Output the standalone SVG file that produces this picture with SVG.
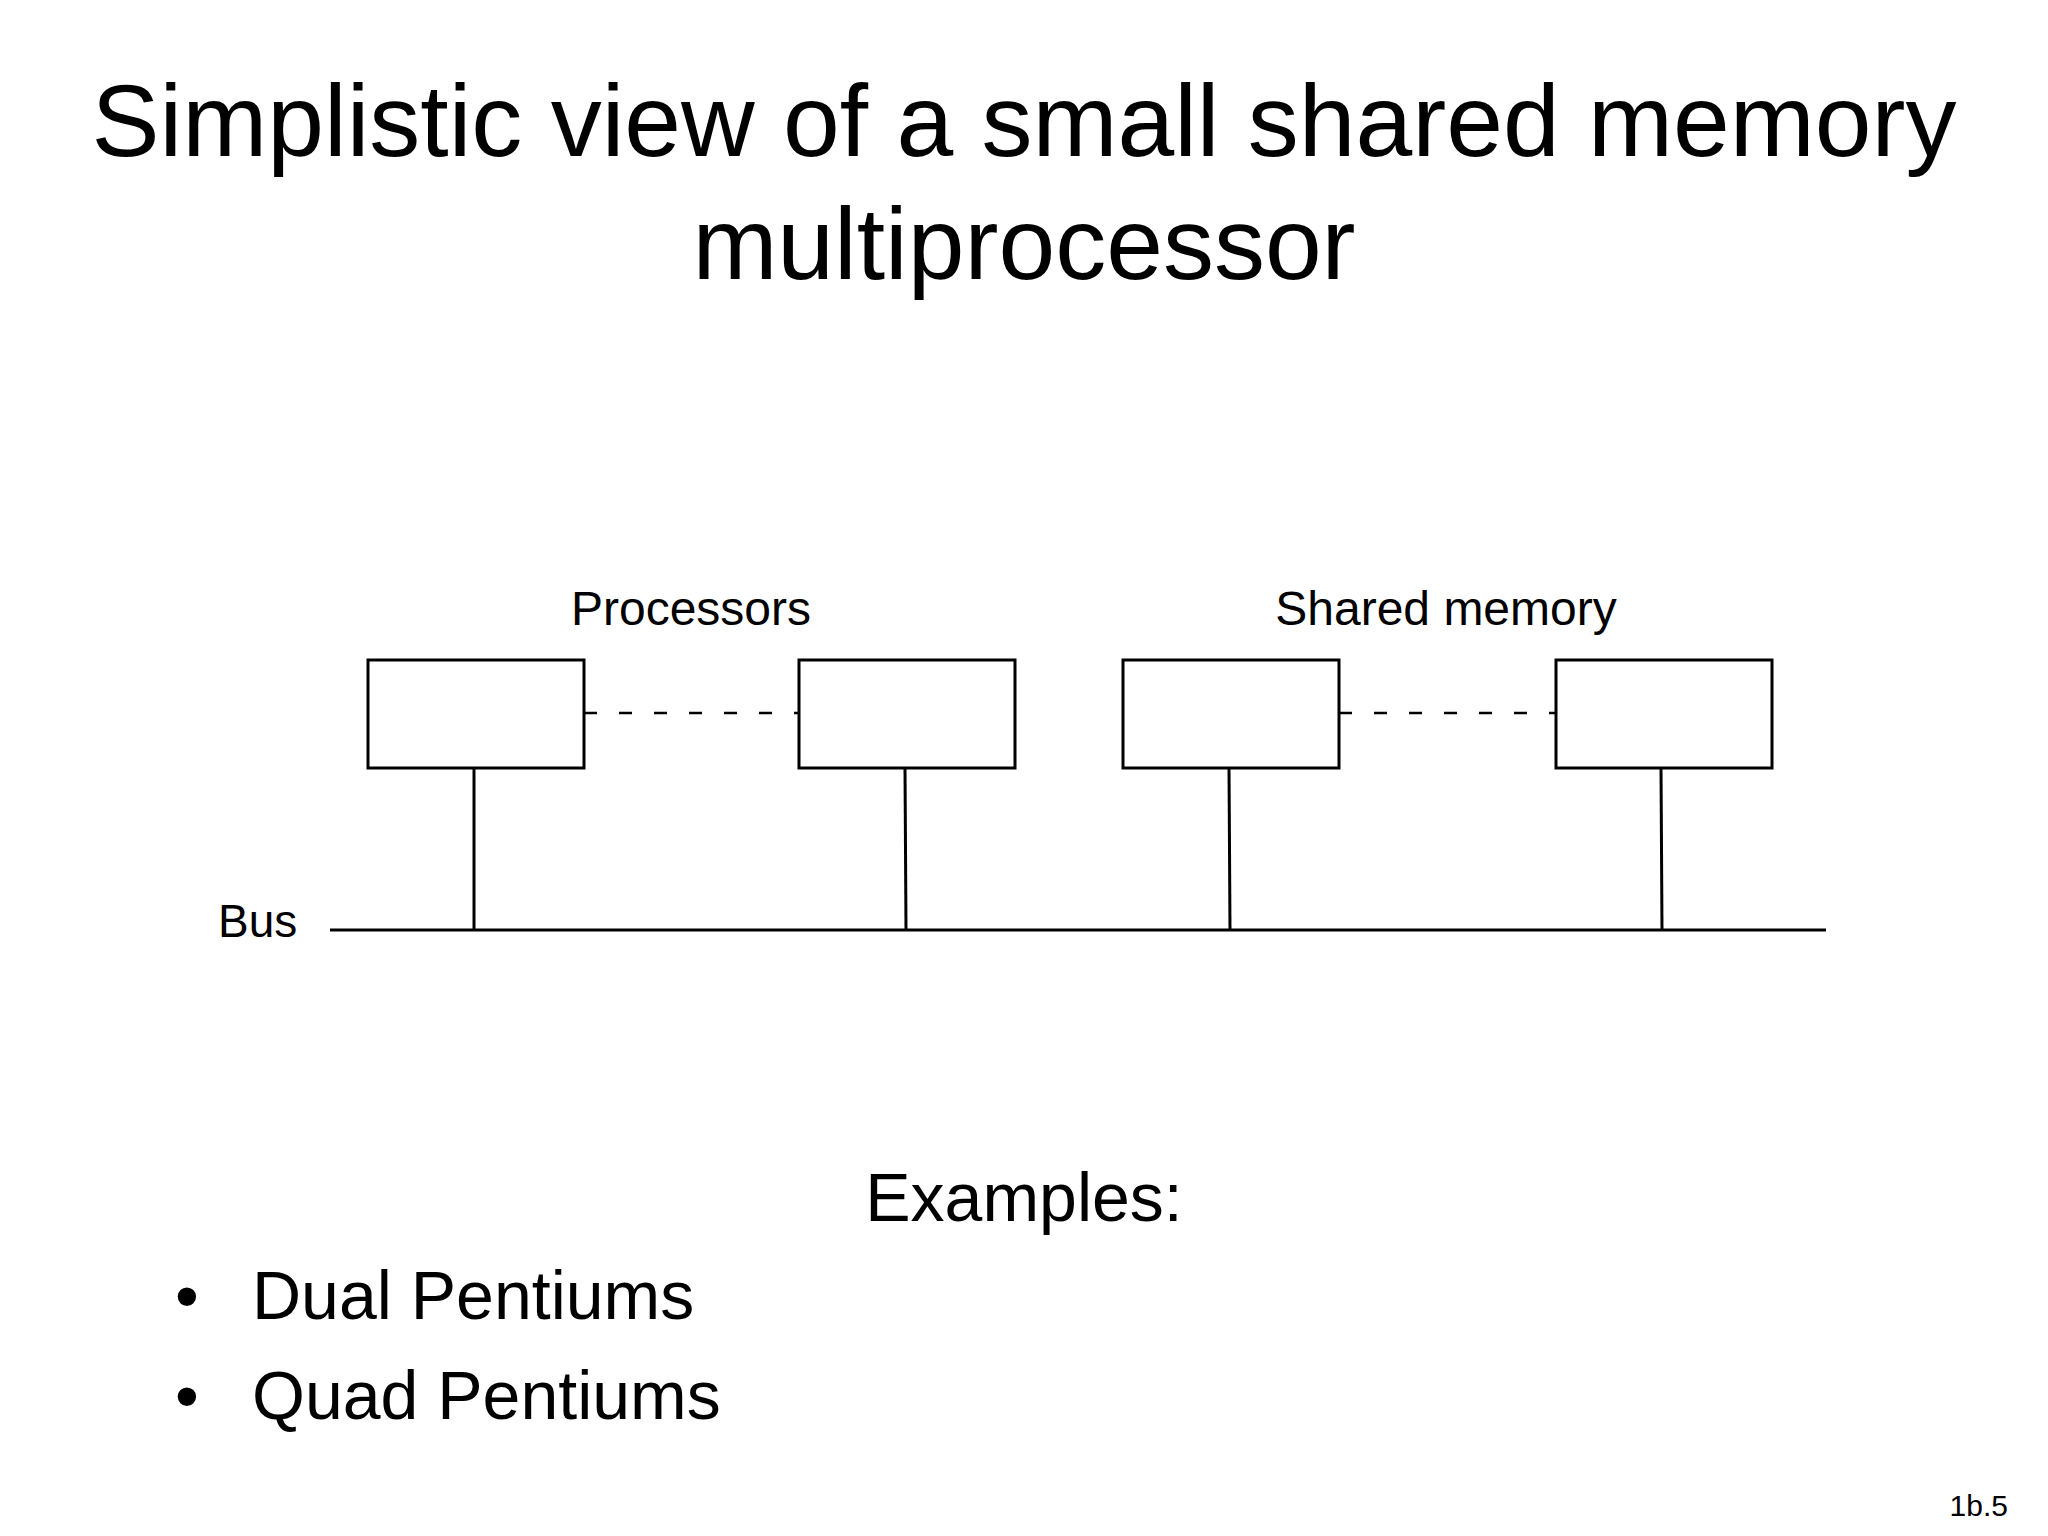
<svg xmlns="http://www.w3.org/2000/svg" width="2048" height="1536" viewBox="0 0 2048 1536">
<style>
text{font-family:"Liberation Sans",Arial,sans-serif;fill:#000}
.box{fill:#fff;stroke:#000;stroke-width:3}
.ln{stroke:#000;stroke-width:3;fill:none}
.dash{stroke:#000;stroke-width:2.5;stroke-dasharray:13,22;fill:none}
</style>
<rect width="2048" height="1536" fill="#fff"/>
<text x="1024" y="156" font-size="102" text-anchor="middle">Simplistic view of a small shared memory</text>
<text x="1024" y="279" font-size="102" text-anchor="middle">multiprocessor</text>
<text x="691" y="625" font-size="48" text-anchor="middle">Processors</text>
<text x="1446" y="625" font-size="48" text-anchor="middle">Shared memory</text>
<g id="connectors">
<line class="dash" x1="584" y1="713" x2="799" y2="713"/>
<line class="dash" x1="1339" y1="713" x2="1556" y2="713"/>
<line class="ln" x1="474" y1="768" x2="474" y2="930"/>
<line class="ln" x1="905" y1="768" x2="906" y2="930"/>
<line class="ln" x1="1229" y1="768" x2="1230" y2="930"/>
<line class="ln" x1="1661" y1="768" x2="1662" y2="930"/>
<line id="bus" class="ln" x1="330" y1="930" x2="1826" y2="930"/>
</g>
<g id="p1"><rect class="box" x="368" y="660" width="216" height="108"/></g>
<g id="p2"><rect class="box" x="799" y="660" width="216" height="108"/></g>
<g id="m1"><rect class="box" x="1123" y="660" width="216" height="108"/></g>
<g id="m2"><rect class="box" x="1556" y="660" width="216" height="108"/></g>
<text x="218" y="937" font-size="46">Bus</text>
<text x="1024" y="1221" font-size="68" text-anchor="middle">Examples:</text>
<text x="175" y="1319" font-size="68">•</text>
<text x="252" y="1319" font-size="68">Dual Pentiums</text>
<text x="175" y="1419" font-size="68">•</text>
<text x="252" y="1419" font-size="68">Quad Pentiums</text>
<text x="2008" y="1516" font-size="30" text-anchor="end">1b.5</text>
</svg>
